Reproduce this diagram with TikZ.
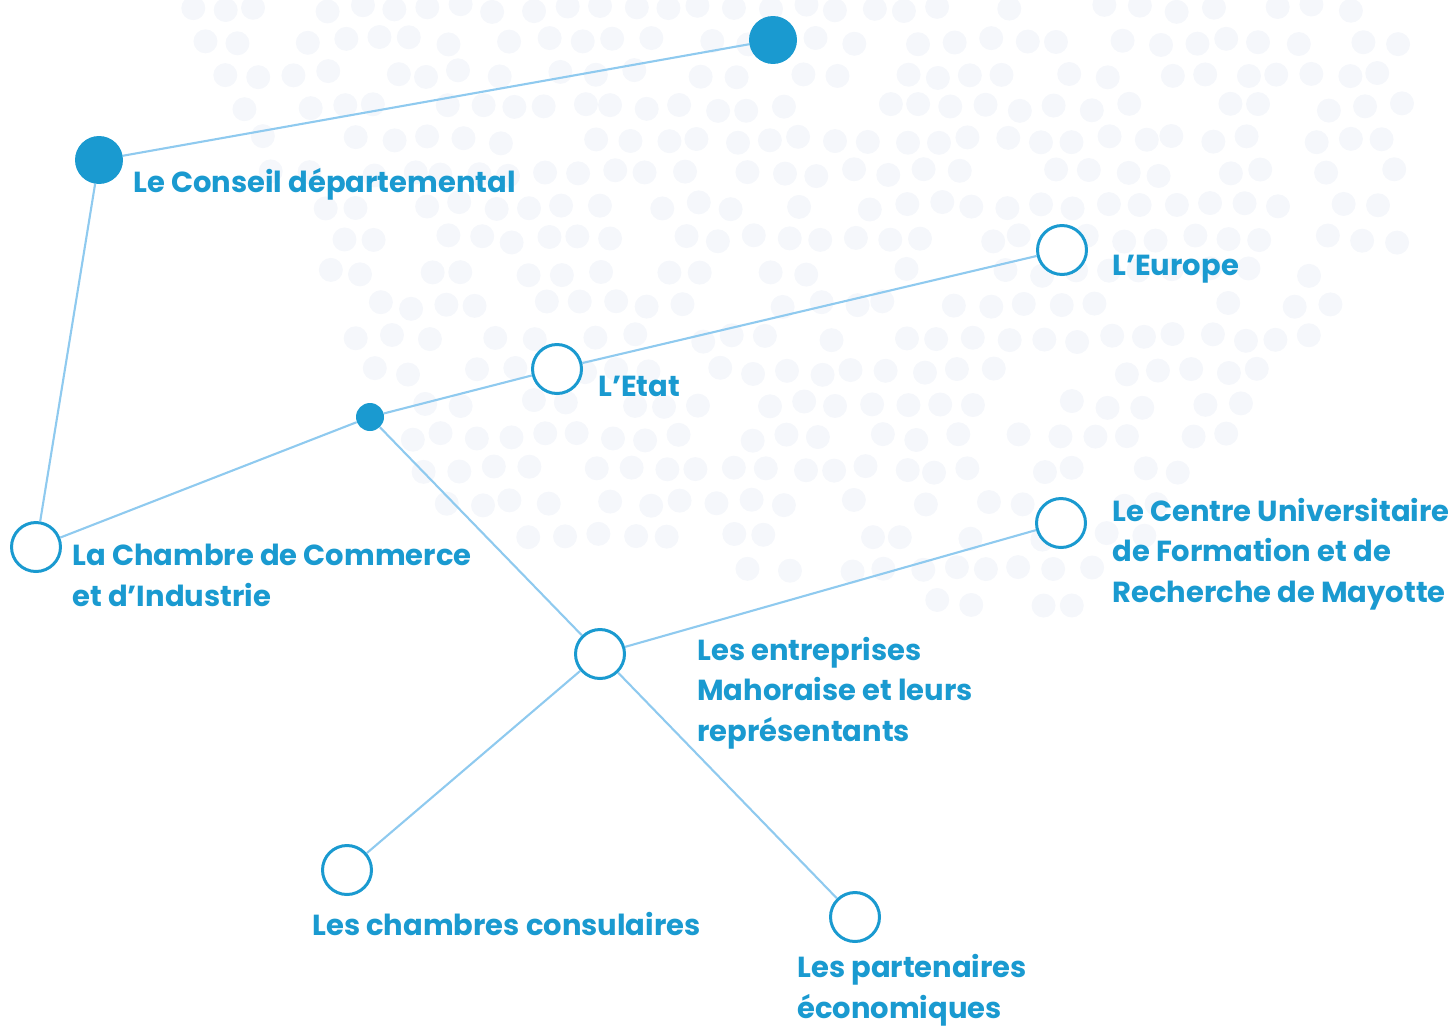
\documentclass[tikz,border=0pt]{standalone}
\usepackage{fontspec}
\setmainfont{Poppins}
\usepackage{xcolor}
\definecolor{deep}{HTML}{1A9AD0}
\definecolor{pale}{HTML}{8FCAEF}
\definecolor{speck}{HTML}{F5F7FB}

\begin{document}
\begin{tikzpicture}[x=0.02cm,y=-0.02cm,
	full/.style={circle,fill=deep,inner sep=0pt,minimum size=0.96cm},
	hub/.style={circle,fill=deep,inner sep=0pt,minimum size=0.56cm},
	ring/.style={circle,draw=deep,line width=1.7pt,fill=white,inner sep=0pt,minimum size=0.98cm},
	link/.style={pale,line width=1.2pt},
	lbl/.style={text=deep,font=\bfseries\fontsize{16.5}{22.8}\selectfont,align=left,inner sep=0pt,anchor=base west}]
		\useasboundingbox (0,0) rectangle (1456,1028);
		\pgfmathsetseed{11}
		\foreach \i in {0,...,37}
			\foreach \j in {0,...,19}
			{
				\pgfmathsetmacro{\px}{190+\i*34+mod(\j,2)*17+5*rand}
				\pgfmathsetmacro{\py}{8+\j*33+4*rand}
				\pgfmathparse{and(and(\py<min(2.12*(\px-175),520+(\px-420)/6),\px<1405-0.9*max(0,\py-250)),rnd<0.8)?1:0}
				\ifnum\pgfmathresult=1 \fill[speck] (\px,\py) circle (0.24cm); \fi
			}

		\node[full] (top) at (773,40) {};
		\node[full] (conseil) at (99,160) {};
		\node[hub] (hub) at (370,417) {};
		\node[ring] (cci) at (36,547) {};
		\node[ring] (etat) at (557,369) {};
		\node[ring] (europe) at (1062,250) {};
		\node[ring] (entr) at (600,654) {};
		\node[ring] (cufr) at (1061,523) {};
		\node[ring] (chamb) at (347,870) {};
		\node[ring] (part) at (855,917) {};

		\draw[link] (conseil) -- (top);
		\draw[link] (conseil) -- (cci);
		\draw[link] (cci) -- (hub);
		\draw[link] (hub) -- (etat);
		\draw[link] (etat) -- (europe);
		\draw[link] (hub) -- (entr);
		\draw[link] (entr) -- (cufr);
		\draw[link] (entr) -- (chamb);
		\draw[link] (entr) -- (part);

		% base of a multi-line label is its last line
		\node[lbl] (t-conseil) at (133,192) {Le Conseil départemental};
		\node[lbl] (t-europe) at (1112,275) {L’Europe};
		\node[lbl] (t-etat) at (598,396) {L’Etat};
		\node[lbl] (t-cci) at (72,606) {La Chambre de Commerce\\et d’Industrie};
		\node[lbl] (t-entr) at (697,741) {Les entreprises\\Mahoraise et leurs\\représentants};
		\node[lbl] (t-cufr) at (1112,602) {Le Centre Universitaire\\de Formation et de\\Recherche de Mayotte};
		\node[lbl] (t-chamb) at (312,935) {Les chambres consulaires};
		\node[lbl] (t-part) at (797,1018) {Les partenaires\\économiques};
	\end{tikzpicture}
\end{document}
